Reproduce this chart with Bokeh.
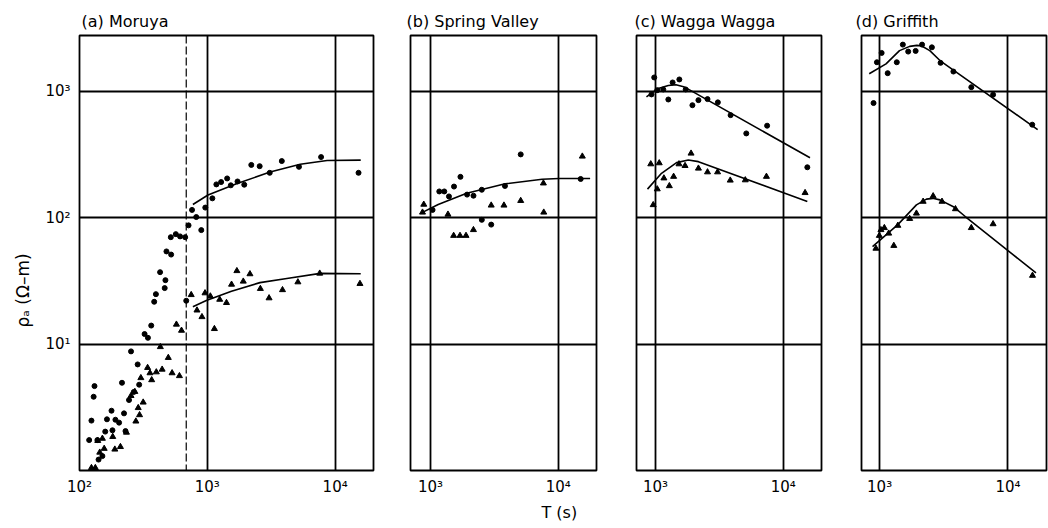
from bokeh.plotting import figure
from bokeh.layouts import row
from bokeh.models import Range1d, FixedTicker, Span, Title
from bokeh.embed import file_html
from bokeh.resources import INLINE

FONT = "DejaVu Sans"
FS_TICK = "15px"
FS_TITLE = "16px"

# ---------------- ticks ----------------
X_TICKS_A = [100, 1000, 10000]
X_LABELS_A = ["10²", "10³", "10⁴"]
X_TICKS = [1000, 10000]
X_LABELS = ["10³", "10⁴"]
Y_TICKS = [10, 100, 1000]
Y_LABELS = ["10¹", "10²", "10³"]

TITLES = ["(a) Moruya", "(b) Spring Valley", "(c) Wagga  Wagga", "(d) Griffith"]
Y_TITLE = "ρₐ (Ω–m)"
X_TITLE = "T (s)"

# ---------------- (a) Moruya ----------------
A_DOT_T = [518, 567, 612, 671, 479, 521, 427, 470, 464, 396, 384, 364, 323, 343, 253, 285,
           215, 293, 131, 129, 266, 244, 178, 223, 124, 164, 191, 204, 159, 181, 229, 119,
           138, 151, 141, 684,
           713, 897, 759, 819, 964, 1095, 1177, 1282, 1429, 1527, 1723, 1945, 2208, 2567,
           3077, 3825, 5212, 7762, 15240]
A_DOT_RHO = [70, 74, 71, 70, 54, 51, 37, 32, 27.7, 24.8, 21.6, 14, 12, 11.2, 8.75, 6.9,
             4.94, 4.77, 4.65, 3.83, 4.18, 3.61, 2.97, 2.83, 2.48, 2.54, 2.52, 2.39, 2.03, 2.08, 2.05, 1.74,
             1.74, 1.30, 1.22, 22,
             86.8, 79.6, 115, 101, 120, 142, 183, 191, 204, 180, 193, 182, 261, 255,
             226, 280, 252, 301, 226]
A_TRI_T = [429, 495, 573, 628, 341, 356, 399, 443, 530, 605, 302, 367, 271, 253, 315, 288,
           295, 276, 233, 182, 151, 139, 189, 209, 156, 144, 124, 133,
           748, 959, 1056, 1250, 1412, 1547, 1703, 1911, 2155, 2600, 3041, 3873, 5112, 7575,
           15630, 908, 830, 1136]
A_TRI_RHO = [9.5, 7.8, 14.3, 12.8, 6.5, 5.9, 6.0, 6.3, 5.9, 5.6, 5.4, 5.2, 4.2, 3.9, 3.46, 3.13,
             2.75, 2.45, 2.0, 1.85, 1.79, 1.72, 1.47, 1.54, 1.49, 1.39, 1.05, 1.05,
             24.5, 25.3, 23.9, 22.5, 21.2, 29.6, 37.9, 31.3, 35.8, 27.4, 23.1, 26.8, 30.9, 36.2,
             30, 16.4, 18.5, 13.2]
A_FIT_UP_T = [771, 1012, 1690, 3097, 5333, 8650, 15850]
A_FIT_UP_RHO = [127, 151, 185, 229, 264, 283, 285]
A_FIT_LO_T = [771, 982, 1545, 2582, 4188, 7656, 15850]
A_FIT_LO_RHO = [19.7, 22.1, 26.2, 30.6, 33, 36.2, 36]
A_CUTOFF_T = 684

# ---------------- (b) Spring Valley ----------------
B_DOT_T = [1037, 1171, 1281, 1394, 1527, 1715, 1933, 2169, 2521, 2521, 2987, 3828, 5085, 15000]
B_DOT_RHO = [115, 161, 161, 147, 176, 210, 152, 149, 166, 96, 88, 178, 316, 202]
B_TRI_T = [885, 865, 1369, 1517, 1701, 1896, 2168, 2987, 3758, 5085, 7656, 7707, 15450]
B_TRI_RHO = [127, 110, 106, 72, 72, 72, 80, 125, 125, 136, 187, 110, 305]
B_FIT_T = [849, 1148, 1919, 3846, 7482, 10139, 15276, 17783]
B_FIT_RHO = [109, 127, 156, 185, 201, 204, 204, 204]

# ---------------- (c) Wagga Wagga ----------------
C_DOT_T = [977, 1032, 930, 1150, 1260, 1361, 1537, 1723, 1945, 2168, 2554, 3077, 3873, 5140,
           7482, 15450]
C_DOT_RHO = [1283, 1018, 942, 1031, 859, 1171, 1237, 1031, 774, 849, 865, 815, 646, 463,
             533, 250]
C_TRI_T = [918, 1069, 959, 1032, 1163, 1283, 1386, 1527, 1703, 1898, 2168, 2554, 3062, 3848,
           5047, 7391, 14840]
C_TRI_RHO = [265, 270, 126, 168, 205, 178, 211, 265, 257, 322, 245, 229, 229, 197,
             198, 211, 157]
C_FIT_UP_T = [849, 1050, 1259, 1445, 1660, 1862, 16218]
C_FIT_UP_RHO = [902, 1050, 1109, 1122, 1084, 1018, 297]
C_FIT_LO_T = [865, 1114, 1462, 1807, 2168, 15453]
C_FIT_LO_RHO = [168, 224, 272, 285, 277, 134]

# ---------------- (d) Griffith ----------------
D_DOT_T = [953, 1037, 897, 1156, 1361, 1517, 1670, 1909, 2142, 2554, 2985, 3758, 5181, 7656,
           15450]
D_DOT_RHO = [1692, 2005, 805, 1387, 1692, 2333, 2055, 2080, 2333, 2220, 1674, 1429, 1075, 937,
             543]
D_TRI_T = [2612, 2183, 3062, 1935, 1715, 3898, 1387, 1089, 1024, 1177, 995, 1290, 936, 5181,
           7656, 15520]
D_TRI_RHO = [148, 134, 134, 108, 98, 117, 86.5, 83, 80, 75, 72, 60, 57, 83,
             89, 34.8]
D_FIT_UP_T = [830, 1122, 1429, 1714, 1950, 2113, 2460, 2951, 17022]
D_FIT_UP_RHO = [1371, 1644, 2091, 2259, 2300, 2288, 2091, 1746, 497]
D_FIT_LO_T = [881, 1387, 1936, 2317, 2600, 2951, 3758, 4645, 16520]
D_FIT_LO_RHO = [59, 88, 126, 140, 142, 138, 122, 102, 36.5]

# ---------------- layout ----------------
FRAME_H = 435
X_HI_LOG = 4.3
Y_HI_LOG = 3.44


def make_panel(title, title_dx, x_lo_log, frame_w, b_left, b_right, x_ticks, x_labels, with_y):
    p = figure(x_axis_type="log", y_axis_type="log",
               x_range=Range1d(10 ** x_lo_log, 10 ** X_HI_LOG),
               y_range=Range1d(1, 10 ** Y_HI_LOG),
               frame_width=frame_w, frame_height=FRAME_H,
               min_border_left=b_left, min_border_right=b_right,
               min_border_top=35, min_border_bottom=50,
               y_axis_location="left" if with_y else None,
               toolbar_location=None, output_backend="svg")
    p.outline_line_color = "black"
    p.outline_line_width = 1.8
    p.background_fill_color = "white"
    p.border_fill_color = "white"

    p.title.text = title
    p.title.align = "left"
    p.title.offset = title_dx
    p.title.standoff = 10
    p.title.text_font = FONT
    p.title.text_font_size = FS_TITLE
    p.title.text_font_style = "normal"
    p.title.text_color = "black"

    p.xaxis.ticker = FixedTicker(ticks=x_ticks, minor_ticks=[])
    p.xaxis.major_label_overrides = dict(zip(x_ticks, x_labels))
    p.xaxis.axis_line_color = None
    p.xaxis.major_tick_line_color = None
    p.xaxis.minor_tick_line_color = None
    p.xaxis.major_label_standoff = 1
    p.xaxis.major_label_text_font = FONT
    p.xaxis.major_label_text_font_size = FS_TICK
    p.xaxis.major_label_text_color = "black"

    if with_y:
        p.yaxis.ticker = FixedTicker(ticks=Y_TICKS, minor_ticks=[])
        p.yaxis.major_label_overrides = dict(zip(Y_TICKS, Y_LABELS))
        p.yaxis.axis_line_color = None
        p.yaxis.major_tick_line_color = None
        p.yaxis.minor_tick_line_color = None
        p.yaxis.major_label_standoff = 3
        p.yaxis.major_label_text_font = FONT
        p.yaxis.major_label_text_font_size = FS_TICK
        p.yaxis.major_label_text_color = "black"

    p.xgrid.ticker = FixedTicker(ticks=x_ticks, minor_ticks=[])
    p.ygrid.ticker = FixedTicker(ticks=Y_TICKS, minor_ticks=[])
    for g in (p.xgrid, p.ygrid):
        g.grid_line_color = "black"
        g.grid_line_width = 1.8
        g.grid_line_alpha = 1.0
    return p


def draw(p, dot_t, dot_r, tri_t, tri_r, fits):
    for ft, fr in fits:
        p.line(ft, fr, line_color="black", line_width=1.6)
    p.scatter(dot_t, dot_r, marker="circle", size=5, color="black")
    p.scatter(tri_t, tri_r, marker="triangle", size=6, color="black")


pa = make_panel(TITLES[0], 2, 2.0, 294, 78, 10, X_TICKS_A, X_LABELS_A, True)
pa.add_layout(Span(location=A_CUTOFF_T, dimension="height", line_color="black",
                   line_width=1.2, line_dash="8 3"))
draw(pa, A_DOT_T, A_DOT_RHO, A_TRI_T, A_TRI_RHO,
     [(A_FIT_UP_T, A_FIT_UP_RHO), (A_FIT_LO_T, A_FIT_LO_RHO)])
pa.add_layout(Title(text=Y_TITLE, align="left", offset=143, standoff=20,
                    text_font=FONT, text_font_size="17px", text_font_style="normal",
                    text_color="black"), "left")

pb = make_panel(TITLES[1], -4, 2.843, 186, 27, 10, X_TICKS, X_LABELS, False)
draw(pb, B_DOT_T, B_DOT_RHO, B_TRI_T, B_TRI_RHO, [(B_FIT_T, B_FIT_RHO)])
pb.add_layout(Title(text=X_TITLE, align="left", offset=131, standoff=5,
                    text_font=FONT, text_font_size=FS_TITLE, text_font_style="normal",
                    text_color="black"), "below")

pc = make_panel(TITLES[2], -2, 2.851, 185, 30, 10, X_TICKS, X_LABELS, False)
draw(pc, C_DOT_T, C_DOT_RHO, C_TRI_T, C_TRI_RHO,
     [(C_FIT_UP_T, C_FIT_UP_RHO), (C_FIT_LO_T, C_FIT_LO_RHO)])

pd = make_panel(TITLES[3], -6, 2.859, 185, 30, 2, X_TICKS, X_LABELS, False)
draw(pd, D_DOT_T, D_DOT_RHO, D_TRI_T, D_TRI_RHO,
     [(D_FIT_UP_T, D_FIT_UP_RHO), (D_FIT_LO_T, D_FIT_LO_RHO)])

layout = row(pa, pb, pc, pd)
open("out.html", "w").write(file_html(layout, INLINE))
